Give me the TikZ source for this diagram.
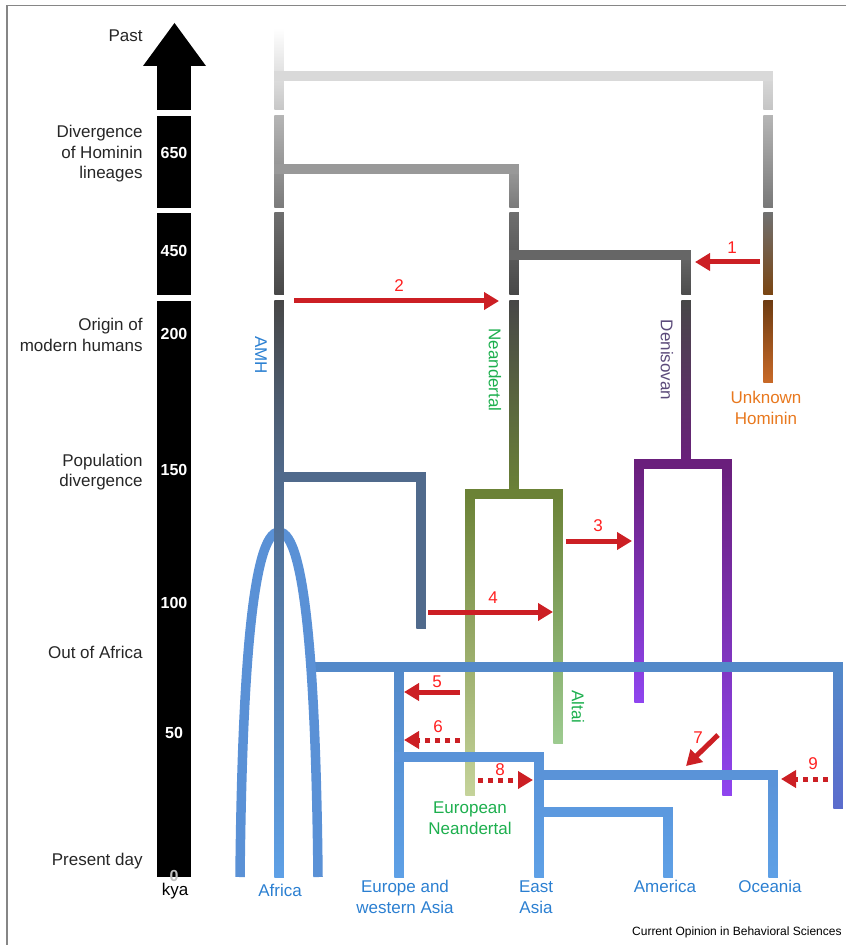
\documentclass[tikz,border=0pt]{standalone}
\usepackage{fontspec}
\setmainfont{Liberation Sans}
\usetikzlibrary{arrows.meta,positioning}

\definecolor{framegray}{HTML}{868686}
\definecolor{flowred}{HTML}{CC1F24}
\definecolor{numred}{HTML}{FF2020}
\definecolor{popblue}{HTML}{2B7FD1}
\definecolor{neagreen}{HTML}{1DAF4E}
\definecolor{denipurple}{HTML}{5B4A7A}
\definecolor{unkorange}{HTML}{E8781E}
\definecolor{unkbrown}{HTML}{7A4512}
\definecolor{unkbrowndark}{HTML}{6E3C12}
\definecolor{unkrust}{HTML}{C96A28}
\definecolor{neaolive}{HTML}{6B8236}
\definecolor{eurolight}{HTML}{C5D39A}
\definecolor{altailight}{HTML}{9DCB90}
\definecolor{denideep}{HTML}{6A1F7C}
\definecolor{denilight}{HTML}{8F45EF}
\definecolor{amhslate}{HTML}{506A8C}
\definecolor{oafblue}{HTML}{5389C9}
\definecolor{oafviolet}{HTML}{5B6CCC}
\definecolor{midblue}{HTML}{5A93D8}
\definecolor{lowblue}{HTML}{5C99DF}
\definecolor{archblue}{HTML}{5A91D6}
\definecolor{tipblue}{HTML}{5EA0E6}

\tikzset{
  lbl/.style={font=\fontsize{8.5}{10.25}\selectfont, inner sep=0pt},
  era/.style={lbl, anchor=east, align=right, text=black!85},
  tick/.style={font=\fontsize{8}{9}\selectfont\bfseries, text=white, inner sep=0pt},
  taxon/.style={lbl, align=center},
  flownum/.style={lbl, text=numred},
  lineage/.style={line width=4.75pt, line cap=rect},
  flow/.style={draw=flowred, line width=2.5pt, -{Triangle[length=7.5pt,width=8.5pt]}},
  dotflow/.style={flow, dash pattern=on 2.5pt off 2.5pt},
}

% vertical branch: x, top y, bottom y, top colour, bottom colour
\newcommand{\branch}[5]{\shade[top color=#4, bottom color=#5] (#1-4.75,#2) rectangle (#1+4.75,#3);}

\begin{document}
\begin{tikzpicture}[x=0.5pt,y=-0.5pt]
  \useasboundingbox (0,0) rectangle (846,945);
  % draw frame
  \draw[framegray, line width=0.65pt] (846,5.5) -- (7,5.5) -- (7,945);

  % draw time axis
  \fill[black] (143,66) -- (174.5,23) -- (206,66) -- cycle;
  \foreach \a/\b in {66/110, 116/208, 213/295, 301/877}{
    \fill[black] (157,\a) rectangle (191,\b);
  }
  \foreach \t/\y in {650/153, 450/251, 200/334, 150/470, 100/603, 50/733}{
    \node[tick] (tick\t) at (174,\y) {\t};
  }
  \node[tick, text=black!25] (tick0) at (174,876) {0};
  \node[lbl] (kya) at (175,891) {kya};

  % draw era labels
  \node[era] (past) at (143,36) {Past};
  \node[era] (diverge) at (143,154) {Divergence\\of Hominin\\lineages};
  \node[era] (origin) at (143,335) {Origin of\\modern humans};
  \node[era] (popdiv) at (143,472) {Population\\divergence};
  \node[era] (outafrica) at (143,652) {Out of Africa};
  \node[era] (today) at (143,861) {Present day};

  % draw archaic lineages
  \branch{279}{28}{110}{white}{black!22}
  \branch{279}{116}{208}{black!29}{black!52}
  \branch{279}{213}{295}{black!57}{black!72}
  \branch{768}{76}{110}{black!15}{black!23}
  \branch{768}{116}{208}{black!29}{black!53}
  \branch{768}{213}{295}{black!56}{unkbrown}
  \branch{768}{301}{383}{unkbrowndark}{unkrust}
  \branch{514}{169}{208}{black!40}{black!52}
  \branch{514}{213}{295}{black!57}{black!72}
  \branch{514}{301}{494}{black!72}{neaolive}
  \branch{686}{255}{295}{black!60}{black!70}
  \branch{686}{301}{464}{black!72}{denideep}
  \draw[lineage, black!15] (279,76) -- (768,76);
  \draw[lineage, black!40] (279,169) -- (514,169);
  \draw[lineage, black!60] (514,255) -- (686,255);

  % Neandertal and Denisovan splits
  \branch{470}{494}{795}{neaolive}{eurolight}
  \branch{558}{494}{743}{neaolive}{altailight}
  \draw[lineage, neaolive] (470,494) -- (558,494);
  \branch{639}{464}{702}{denideep}{denilight}
  \branch{727}{464}{795}{denideep}{denilight}
  \draw[lineage, denideep] (639,464) -- (727,464);

  % draw modern human lineage
  \branch{279}{301}{477}{black!72}{amhslate}
  \branch{421}{477}{628}{amhslate}{amhslate}
  \draw[lineage, amhslate] (279,477) -- (421,477);

  % out of Africa
  \branch{838}{667}{808}{oafblue}{oafviolet}
  \branch{399}{667}{877}{oafblue}{tipblue}
  \branch{539}{757}{877}{midblue}{tipblue}
  \branch{773}{775}{877}{midblue}{tipblue}
  \branch{668}{812}{877}{lowblue}{tipblue}
  \draw[lineage, oafblue] (313,667) -- (838,667);
  \draw[lineage, midblue] (399,757) -- (539,757);
  \draw[lineage, midblue] (539,775) -- (773,775);
  \draw[lineage, lowblue] (539,812) -- (668,812);
  \draw[line width=4.75pt, archblue] (240,877) .. controls (242,680) and (252,532) .. (279,532)
    .. controls (306,532) and (316,680) .. (318,877);
  \branch{279}{477}{877}{amhslate}{tipblue}

  % draw gene flow
  \foreach \n/\xa/\ya/\xb/\yb/\lx/\ly in {1/760/262/695/262/732/248,
      2/294/301/499/301/399/286, 3/566/541/632/541/598/526,
      4/428/612/553/612/493/598, 5/460/692/404/692/437/682,
      7/718/735/686/766/698/738}{
    \coordinate (src\n) at (\xa,\ya);
    \coordinate (dst\n) at (\xb,\yb);
    \draw[flow] (src\n) -- (dst\n);
    \node[flownum] (num\n) at (\lx,\ly) {\n};
  }
  \foreach \n/\xa/\ya/\xb/\yb/\lx/\ly in {6/460/740/404/740/438/727,
      8/478/780/533/780/500/770, 9/828/779/781/779/813/764}{
    \coordinate (src\n) at (\xa,\ya);
    \coordinate (dst\n) at (\xb,\yb);
    \draw[dotflow] (src\n) -- (dst\n);
    \node[flownum] (num\n) at (\lx,\ly) {\n};
  }

  % draw lineage labels
  \node[lbl, text=popblue, rotate=-90] (amh) at (261,355) {AMH};
  \node[lbl, text=neagreen, rotate=-90] (nea) at (495,370) {Neandertal};
  \node[lbl, text=denipurple, rotate=-90] (deni) at (667,360) {Denisovan};
  \node[lbl, text=neagreen, rotate=-90] (altai) at (578,707) {Altai};
  \node[taxon, text=unkorange] (unknown) at (766,408) {Unknown\\Hominin};
  \node[taxon, text=neagreen] (euronea) at (470,818) {European\\Neandertal};

  % draw population labels
  \node[taxon, text=popblue] (africa) at (280,890) {Africa};
  \node[taxon, text=popblue] (europe) at (405,897) {Europe and\\western Asia};
  \node[taxon, text=popblue] (eastasia) at (536,897) {East\\Asia};
  \node[taxon, text=popblue] (america) at (665,886) {America};
  \node[taxon, text=popblue] (oceania) at (770,886) {Oceania};

  \node[font=\fontsize{6}{7}\selectfont, anchor=east, inner sep=0pt] (credit) at (842,932)
    {Current Opinion in Behavioral Sciences};
\end{tikzpicture}
\end{document}
